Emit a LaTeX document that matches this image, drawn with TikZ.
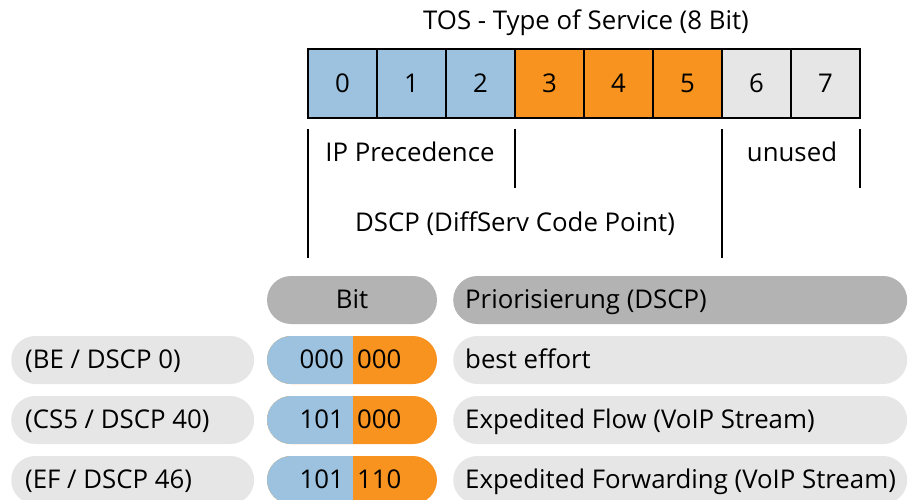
\documentclass[tikz,border=0pt]{standalone}
\usepackage{fontspec}
\setmainfont{Open Sans}
\definecolor{bblue}{HTML}{9CC2DF}
\definecolor{borange}{HTML}{F7931E}
\definecolor{lgray}{HTML}{E6E6E6}
\definecolor{hgray}{HTML}{B3B3B3}
\newcommand{\fsz}{\fontsize{25.8}{30}\selectfont}
\begin{document}
\begin{tikzpicture}[x=1pt,y=-1pt,
  cell/.style={draw=black, line width=1.6pt, minimum width=69pt, minimum height=69pt, inner sep=0pt, font=\fsz},
  pill/.style={rounded corners=24pt, minimum height=48pt, inner sep=0pt},
  tick/.style={line width=1.6pt},
  lbl/.style={font=\fsz, inner sep=0pt, anchor=base},
  lbll/.style={font=\fsz, inner sep=0pt, anchor=base west},
  lblr/.style={font=\fsz, inner sep=0pt, anchor=base east}]
\useasboundingbox (0,0) rectangle (908,500);
\clip (0,0) rectangle (908,500);
% title
\node[lbl] (title) at (586,30) {TOS - Type of Service (8 Bit)};
% bit cells
\foreach \i/\c in {0/bblue,1/bblue,2/bblue,3/borange,4/borange,5/borange,6/lgray,7/lgray}{
  \node[cell, fill=\c] (b\i) at ({342.5+69*\i},83.5) {};
  \node[lbl] (d\i) at ({342.5+69*\i},93) {\i};
}
% ticks
\coordinate (t1a) at (308,129); \coordinate (t1b) at (308,258);
\coordinate (t2a) at (515,129); \coordinate (t2b) at (515,188);
\coordinate (t3a) at (722,129); \coordinate (t3b) at (722,258);
\coordinate (t4a) at (860,129); \coordinate (t4b) at (860,188);
\draw[tick] (t1a) -- (t1b);
\draw[tick] (t2a) -- (t2b);
\draw[tick] (t3a) -- (t3b);
\draw[tick] (t4a) -- (t4b);
\node[lbl] (ipp) at (410,161.5) {IP Precedence};
\node[lbl] (unu) at (792,161.5) {unused};
\node[lbl] (dscp) at (515,231.5) {DSCP (DiffServ Code Point)};
% table header
\node[pill, fill=hgray, minimum width=170pt] (hbit) at (352,300) {};
\node[lbl] (hbitt) at (352,308.5) {Bit};
\node[pill, fill=hgray, minimum width=454pt, anchor=west] (hpri) at (453,300) {};
\node[lbll] (hprit) at (465,308.5) {Priorisierung (DSCP)};
% rows
\foreach \k/\y/\l/\a/\b/\r in {1/360/{(BE / DSCP 0)}/000/000/{best effort},
                               2/420/{(CS5 / DSCP 40)}/101/000/{Expedited Flow (VoIP Stream)},
                               3/480/{(EF / DSCP 46)}/101/110/{Expedited Forwarding (VoIP Stream)}}{
  \node[pill, fill=lgray, minimum width=243pt, anchor=west] (l\k) at (11,\y) {};
  \node[lbll] (lt\k) at (25,\y+8.5) {\l};
  \node[pill, minimum width=170pt, fill=borange,
        path picture={\fill[bblue, sharp corners] (path picture bounding box.north west) rectangle ([xshift=1pt]path picture bounding box.south);}] (m\k) at (352,\y) {};
  \node[lblr] (ma\k) at (344,\y+8.5) {\a};
  \node[lbll] (mb\k) at (357,\y+8.5) {\b};
  \node[pill, fill=lgray, minimum width=454pt, anchor=west] (r\k) at (453,\y) {};
  \node[lbll] (rt\k) at (465,\y+8.5) {\r};
}
\end{tikzpicture}
\end{document}
